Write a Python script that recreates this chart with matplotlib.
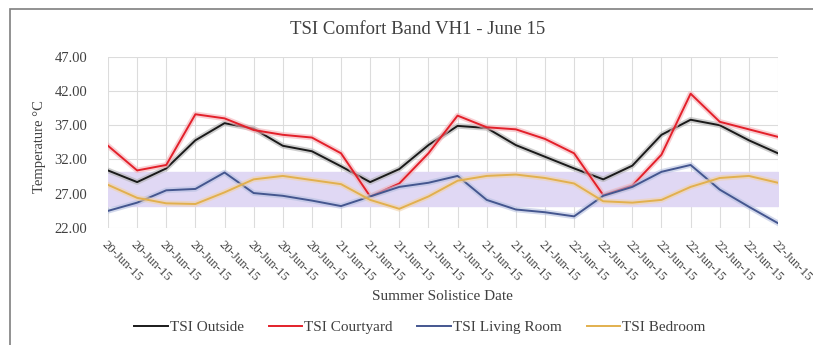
import numpy as np
import matplotlib.pyplot as plt
import matplotlib.patheffects as pe
from matplotlib.patches import Rectangle

# Data (3-hourly readings, 20-22 June 2015)
dates = ['20-Jun-15'] * 8 + ['21-Jun-15'] * 8 + ['22-Jun-15'] * 8
outside = [30.4, 28.7, 30.7, 34.8, 37.3, 36.5, 34.0, 33.2,
           31.0, 28.7, 30.6, 34.1, 36.9, 36.6, 34.1, 32.4,
           30.7, 29.1, 31.1, 35.6, 37.8, 37.0, 34.8, 32.9]
courtyard = [34.0, 30.4, 31.2, 38.6, 38.0, 36.3, 35.6, 35.2,
             32.9, 26.6, 28.5, 32.9, 38.4, 36.7, 36.4, 35.0,
             32.9, 26.8, 28.2, 32.7, 41.6, 37.5, 36.4, 35.3]
living = [24.5, 25.7, 27.5, 27.7, 30.1, 27.1, 26.7, 26.0,
          25.2, 26.6, 28.0, 28.6, 29.6, 26.1, 24.7, 24.3,
          23.7, 26.7, 28.0, 30.2, 31.2, 27.6, 25.1, 22.7]
bedroom = [28.3, 26.4, 25.6, 25.5, 27.2, 29.1, 29.6, 29.0,
           28.4, 26.1, 24.8, 26.6, 28.9, 29.6, 29.8, 29.3,
           28.5, 25.9, 25.7, 26.1, 28.0, 29.3, 29.6, 28.6]
band_low, band_high = 25.2, 30.2

serif = ['Liberation Serif', 'DejaVu Serif']
plt.rcParams['font.family'] = serif
txt = '#404040'

W, H = 813, 345
fig = plt.figure(figsize=(W / 100, H / 100), dpi=100)
ax = fig.add_axes([108 / W, 1 - 228 / H, 670 / W, 171.3 / H])

# outer chart border
fig.patches.append(Rectangle((10 / W, -0.1), 1.2, 1 - 9 / H + 0.1,
                             transform=fig.transFigure, fill=False,
                             edgecolor='#7f7f7f', lw=1.2))

x = np.arange(len(dates))
ax.fill_between(x, band_low, band_high, color='#e0d8f4', zorder=1)

series = [(outside, '#1a1a1a', '#b0b0b0', 'TSI Outside'),
          (courtyard, '#e3202a', '#f4b0b6', 'TSI Courtyard'),
          (living, '#44568f', '#b6c0e0', 'TSI Living Room'),
          (bedroom, '#e2b04e', '#f2d2a8', 'TSI Bedroom')]
for vals, c, halo, name in series:
    ax.plot(x, vals, color=c, lw=1.4, label=name, zorder=3,
            path_effects=[pe.Stroke(linewidth=4, foreground=halo, alpha=0.6),
                          pe.Normal()])

ax.set_xlim(0, len(dates) - 1)
ax.set_ylim(22, 47)
ax.set_yticks(np.arange(22, 48, 5))
ax.set_yticklabels([f'{v:.2f}' for v in np.arange(22, 48, 5)], fontsize=10.5,
                   color=txt)
ax.set_xticks(x)
ax.set_xticklabels(dates, rotation=-45, ha='left', va='top',
                   rotation_mode='anchor', fontsize=9.2, color=txt)
ax.tick_params(axis='y', length=0, pad=15)
ax.tick_params(axis='x', length=0, pad=8)
ax.grid(color='#dcdcdc', lw=0.8)
ax.set_axisbelow(True)
for s in ax.spines.values():
    s.set_visible(False)

fig.text(418 / W, 1 - 30 / H, 'TSI Comfort Band VH1 - June 15', fontsize=13.5,
         color=txt, ha='center', va='center')
fig.text(39 / W, 1 - 147 / H, 'Temperature °C', fontsize=10.5, color=txt,
         rotation=90, ha='center', va='center')
fig.text(442 / W, 1 - 296 / H, 'Summer Solistice Date', fontsize=11, color=txt,
         ha='center', va='center')

handles, labels = ax.get_legend_handles_labels()
leg = fig.legend(handles, labels, loc='center', bbox_to_anchor=(420 / W, 1 - 327 / H),
                 ncol=4, frameon=False, fontsize=11, handlelength=2.2,
                 handletextpad=0.15, columnspacing=1.6, labelcolor=txt)
for h in leg.legend_handles:
    h.set_path_effects([])

fig.savefig('out.png', dpi=100)
